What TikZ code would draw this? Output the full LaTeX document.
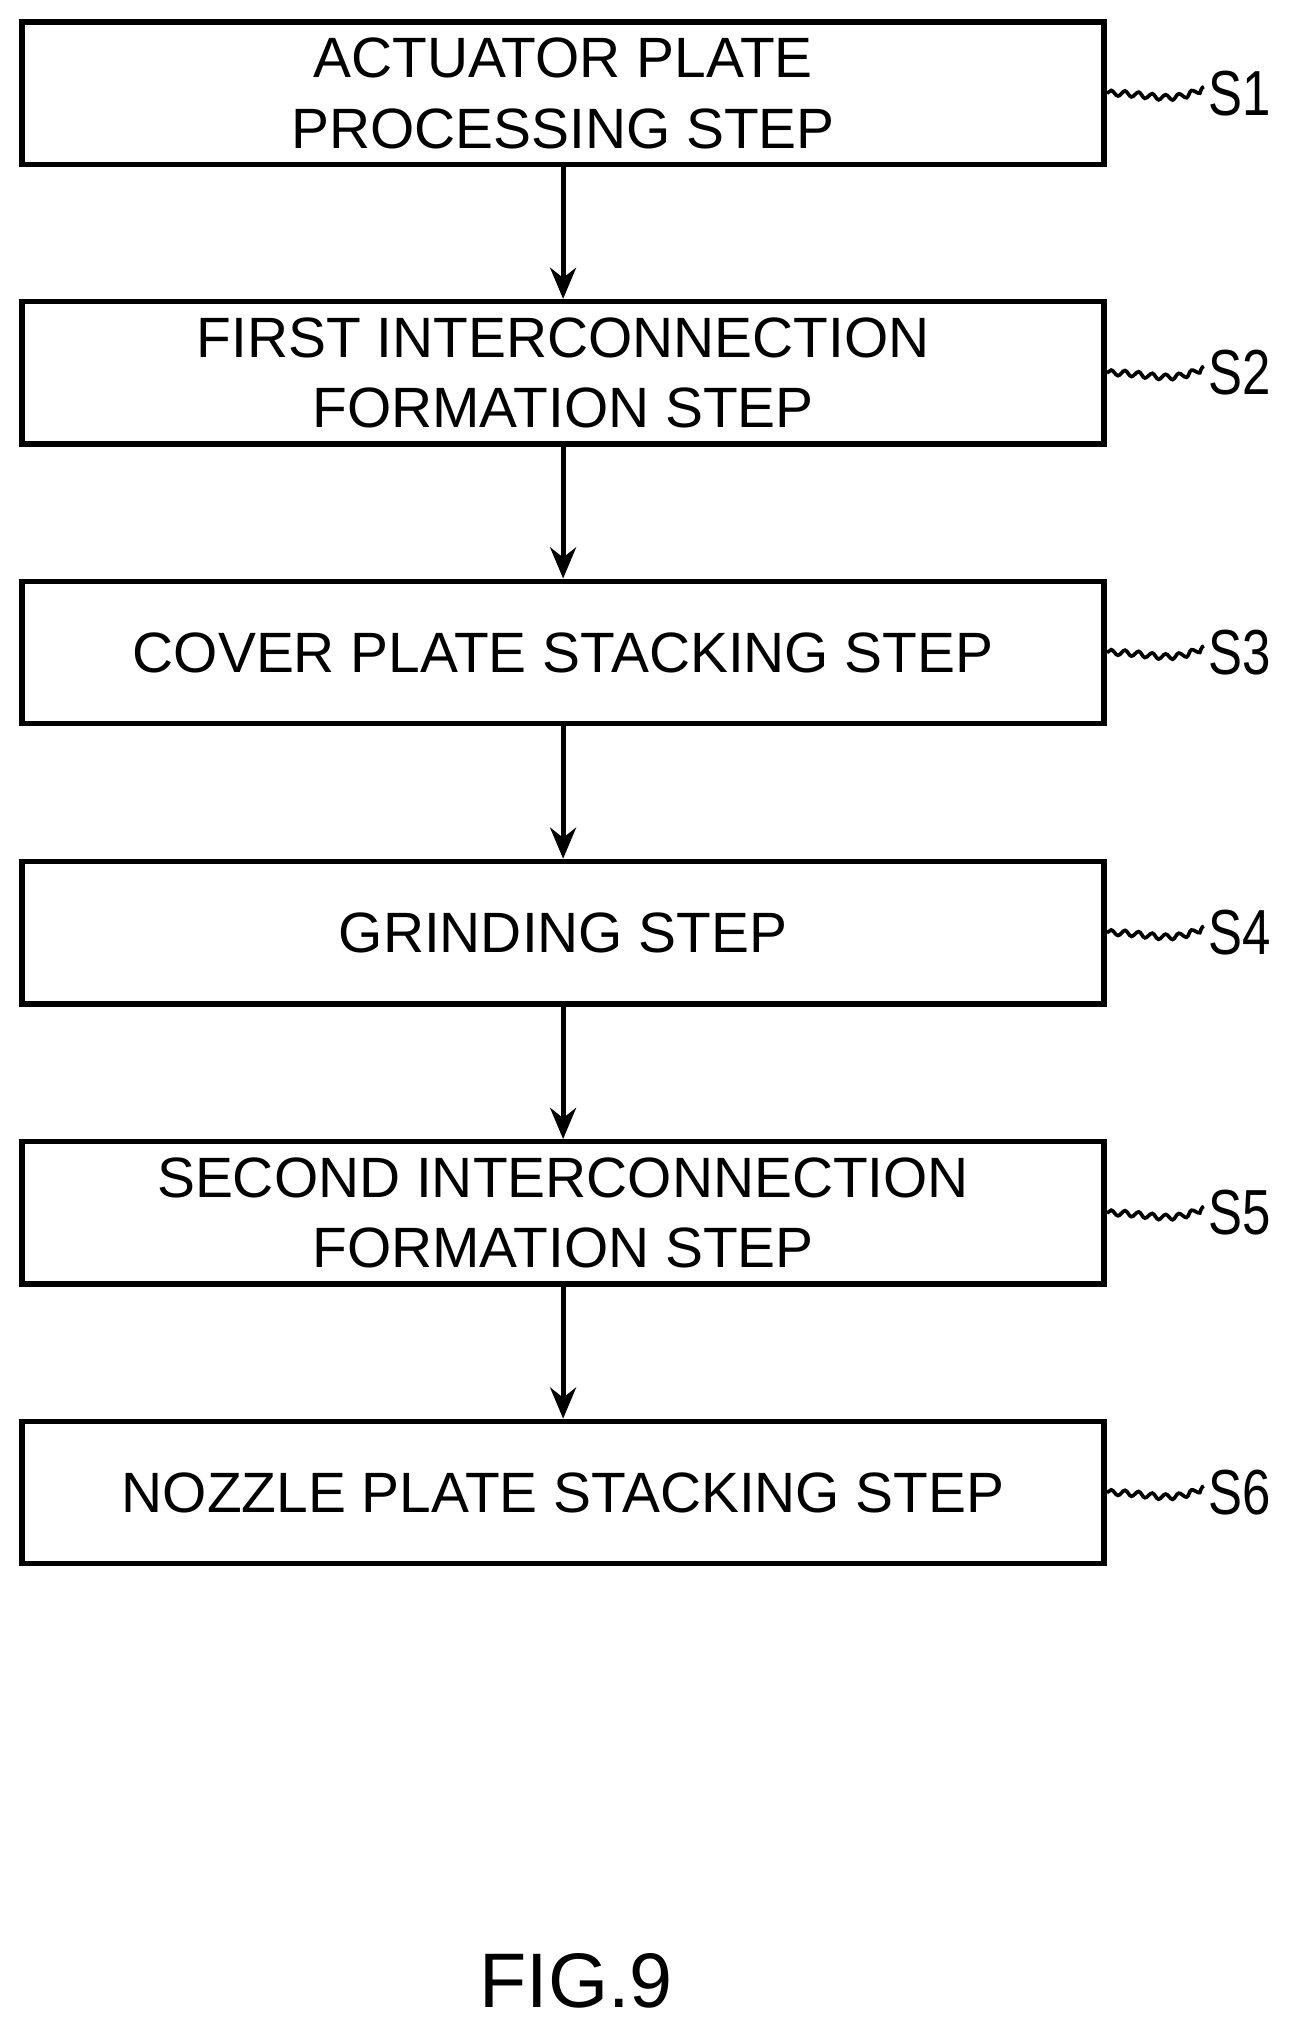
\documentclass[tikz,border=0pt]{standalone}
\usepackage{fontspec}
\setmainfont{Liberation Sans}
\usetikzlibrary{decorations.pathmorphing,arrows.meta}
\begin{document}
\begin{tikzpicture}[
  box/.style={draw,line width=1.2pt,minimum width=8.36cm,minimum height=1.1cm,align=center,font=\fontsize{12.5}{15.5}\selectfont,inner sep=0pt},
  arr/.style={line width=1.1pt,-{Stealth[length=2.4mm,width=2mm]}},
  lead/.style={line width=0.8pt,decorate,decoration={snake,amplitude=0.6pt,segment length=3pt}},
  lab/.style={font=\fontsize{14}{14}\selectfont,anchor=west,inner sep=0pt,xscale=0.8}]
\useasboundingbox (0,0) rectangle (10,-15.62);
\foreach \n/\y/\t in {1/0.72/{ACTUATOR PLATE\\PROCESSING STEP},2/2.88/{FIRST INTERCONNECTION\\FORMATION STEP},3/5.04/{COVER PLATE STACKING STEP},4/7.205/{GRINDING STEP},5/9.37/{SECOND INTERCONNECTION\\FORMATION STEP},6/11.53/{NOZZLE PLATE STACKING STEP}}{
  \node[box] (b\n) at (4.35,-\y) {\t};
  \coordinate (c\n) at (9.3,-\y+0.05);
  \node[lab] (s\n) at (9.33,-\y) {S\n};
  \draw[lead] (b\n.east) .. controls (8.9,-\y) and (9.0,-\y-0.1) .. (c\n);
}
\foreach \a/\b in {1/2,2/3,3/4,4/5,5/6}{\draw[arr] (b\a) -- (b\b);}
\node[font=\fontsize{17}{17}\selectfont] (fig) at (4.45,-15.3) {FIG.9};
\end{tikzpicture}
\end{document}
